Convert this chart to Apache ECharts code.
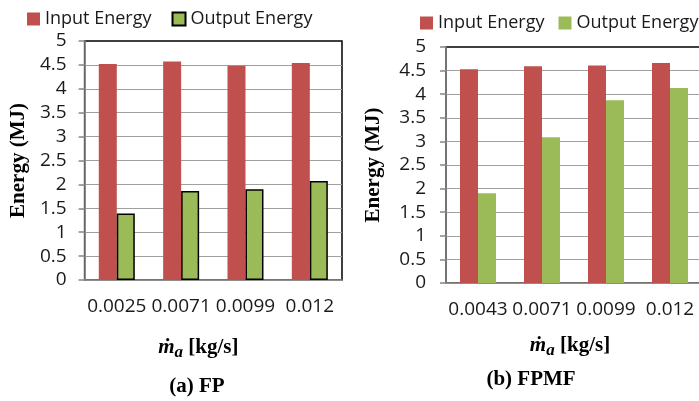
<!DOCTYPE html>
<html lang="en">
<head>
    <meta charset="UTF-8">
    <title>Energy</title>
    <script src="https://cdn.jsdelivr.net/npm/echarts@6/dist/echarts.min.js"></script>
    <style>
        *{
            margin: 0;
            padding: 0;
        }
        html ,body{
            width: 100%;
            height: 100%;
            overflow: hidden;
            background: #fff;
        }
        .box{
            position: absolute;
            top: 0;
            height: 401px;
        }
        #fp{ left: 0; width: 350px; }
        #fpmf{ left: 350px; width: 360px; }
    </style>
</head>
<body>
<div class="box" id="fp"></div>
<div class="box" id="fpmf"></div>
<script>
    // (a) FP
    const categoriesA = ['0.0025', '0.0071', '0.0099', '0.012'];
    const inputA = [4.52, 4.57, 4.48, 4.54];
    const outputA = [1.39, 1.86, 1.90, 2.07];
    // (b) FPMF
    const categoriesB = ['0.0043', '0.0071', '0.0099', '0.012'];
    const inputB = [4.53, 4.59, 4.61, 4.66];
    const outputB = [1.90, 3.09, 3.87, 4.13];
    const yTicks = [0, 5, 0.5];

    const red = '#c0504d';
    const green = '#9bbb59';
    const sans = "'Open Sans', 'Noto Sans', sans-serif";
    const serif = "'Liberation Serif', 'DejaVu Serif', serif";

    function makeOption(cfg) {
        return {
            animation: false,
            legend: {
                left: cfg.legendLeft,
                top: cfg.legendTop,
                padding: 0,
                itemWidth: 13,
                itemHeight: 13,
                itemGap: cfg.legendGap,
                icon: 'rect',
                textStyle: { fontFamily: sans, fontSize: 18, color: '#1a1a1a' },
                data: ['Input Energy', 'Output Energy']
            },
            grid: {
                left: cfg.grid[0], top: cfg.grid[1], width: cfg.grid[2], height: cfg.grid[3],
                show: true,
                borderColor: '#000',
                borderWidth: 1.5,
                backgroundColor: 'transparent'
            },
            xAxis: {
                type: 'category',
                data: cfg.categories,
                name: '{m|ṁ}{s|a} [kg/s]',
                nameLocation: 'middle',
                nameGap: cfg.xNameGap,
                nameTextStyle: {
                    fontFamily: serif, fontSize: 21, fontWeight: 'bold', color: '#000',
                    padding: cfg.xNamePad,
                    rich: {
                        m: { fontFamily: serif, fontSize: 21, fontWeight: 'bold', fontStyle: 'italic', color: '#000' },
                        s: { fontFamily: serif, fontSize: 17, fontWeight: 'bold', fontStyle: 'italic', color: '#000', padding: [9, 0, 0, 0] }
                    }
                },
                axisLine: { lineStyle: { color: '#868686', width: 1.5 } },
                axisTick: { length: 6, lineStyle: { color: '#868686', width: 1.5 } },
                axisLabel: {
                    interval: 0, hideOverlap: false,
                    fontFamily: sans, fontSize: 19, color: '#1a1a1a', margin: 17
                },
                splitLine: { show: false }
            },
            yAxis: {
                type: 'value',
                min: yTicks[0],
                max: yTicks[1],
                interval: yTicks[2],
                name: 'Energy (MJ)',
                nameLocation: 'middle',
                nameRotate: 90,
                nameGap: cfg.yNameGap,
                nameTextStyle: { fontFamily: serif, fontSize: 21, fontWeight: 'bold', color: '#000' },
                axisLine: { show: true, lineStyle: { color: '#868686', width: 1.5 } },
                axisTick: { show: true, length: 6, lineStyle: { color: '#868686', width: 1.5 } },
                axisLabel: { fontFamily: sans, fontSize: 19, color: '#1a1a1a', margin: cfg.yLabelMargin },
                splitLine: { showMaxLine: false, lineStyle: { color: '#a0a0a0', width: 1.2 } }
            },
            graphic: [{
                type: 'text',
                x: cfg.caption[0],
                y: cfg.caption[1],
                style: {
                    text: cfg.captionText,
                    fontFamily: serif, fontSize: 21, fontWeight: 'bold', fill: '#000',
                    align: 'center', verticalAlign: 'middle'
                }
            }],
            series: [{
                name: 'Input Energy',
                type: 'bar',
                data: cfg.input,
                barWidth: 18,
                barGap: '0%',
                itemStyle: { color: red }
            }, {
                name: 'Output Energy',
                type: 'bar',
                data: cfg.output,
                barWidth: 18,
                barGap: '0%',
                itemStyle: cfg.outlined
                    ? { color: green, borderColor: '#000', borderWidth: 1.5 }
                    : { color: green }
            }]
        };
    }

    let chartA = echarts.init(document.getElementById('fp'));
    chartA.setOption(makeOption({
        categories: categoriesA, input: inputA, output: outputA,
        grid: [82, 41, 260, 239],
        legendLeft: 27, legendTop: 10, legendGap: 20,
        xNameGap: 55, xNamePad: [0, 30, 0, 0],
        yNameGap: 48, yLabelMargin: 18,
        caption: [197, 387], captionText: '(a) FP',
        outlined: true
    }));

    let chartB = echarts.init(document.getElementById('fpmf'));
    chartB.setOption(makeOption({
        categories: categoriesB, input: inputB, output: outputB,
        grid: [96, 47, 256, 236],
        legendLeft: 70, legendTop: 14, legendGap: 14,
        xNameGap: 50, xNamePad: [0, 8, 0, 0],
        yNameGap: 62, yLabelMargin: 20,
        caption: [181, 380], captionText: '(b) FPMF',
        outlined: false
    }));
</script>
</body>
</html>
